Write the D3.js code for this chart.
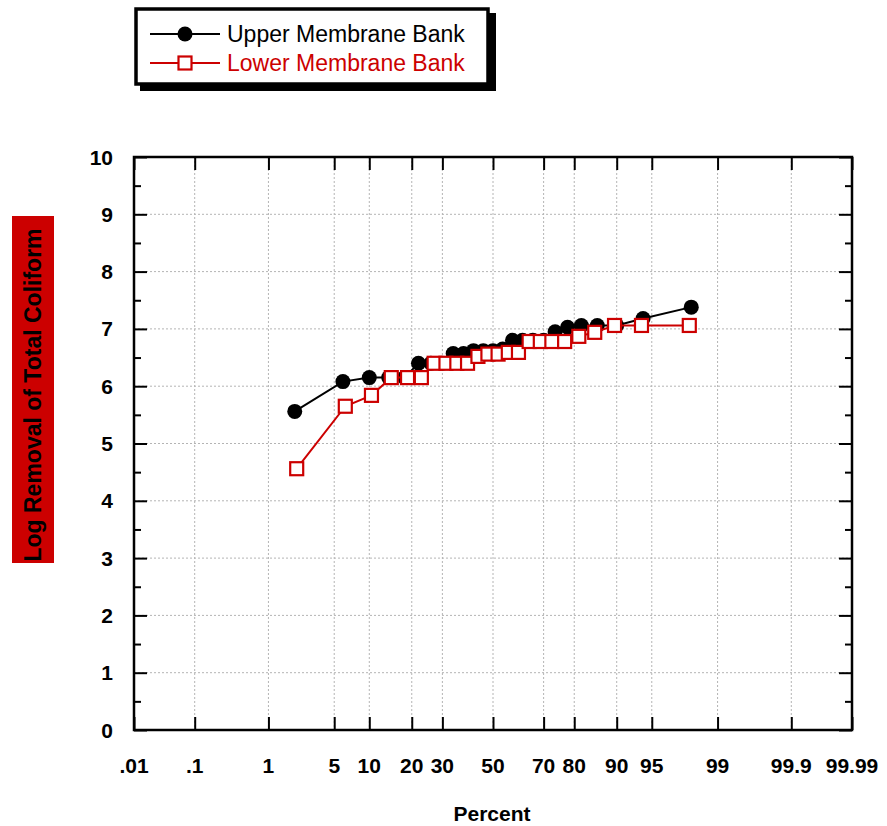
<title>Log Removal of Total Coliform</title>
<script src="https://d3js.org/d3.v7.min.js"></script>
<style>
    body { margin: 0; background: #fff; }
    text { font-family: "Liberation Sans", Arial, sans-serif; }
</style>
<svg id="chart" width="887" height="826"></svg>
<script>
    // percent (probability plotting position) and log removal
    var upperPct = [2, 6, 10, 14, 18, 22, 26, 30, 34, 38, 42, 46, 50, 54, 58, 62, 66, 70, 74, 78, 82, 86, 90, 94, 98];
    var upperLog = [5.56, 6.08, 6.15, 6.15, 6.15, 6.40, 6.40, 6.40, 6.57, 6.57, 6.62, 6.62, 6.62, 6.65, 6.80, 6.80, 6.80, 6.80, 6.95, 7.03, 7.06, 7.06, 7.06, 7.18, 7.38];

    var lowerPct = [2.1, 6.3, 10.4, 14.6, 18.8, 22.9, 27.1, 31.3, 35.4, 39.6, 43.8, 47.9, 52.1, 56.3, 60.4, 64.6, 68.8, 72.9, 77.1, 81.3, 85.4, 89.6, 93.8, 97.9];
    var lowerLog = [4.56, 5.65, 5.84, 6.15, 6.15, 6.15, 6.40, 6.40, 6.40, 6.40, 6.52, 6.56, 6.56, 6.59, 6.59, 6.78, 6.78, 6.78, 6.78, 6.87, 6.94, 7.06, 7.06, 7.06];

    var xTicks = [0.01, 0.1, 1, 5, 10, 20, 30, 50, 70, 80, 90, 95, 99, 99.9, 99.99];
    var xTickLabels = [".01", ".1", "1", "5", "10", "20", "30", "50", "70", "80", "90", "95", "99", "99.9", "99.99"];
    var yTicks = [0, 1, 2, 3, 4, 5, 6, 7, 8, 9, 10];
    var seriesNames = ["Upper Membrane Bank", "Lower Membrane Bank"];

    var red = "#cc0000";

    // inverse normal cdf (Acklam)
    function probit(p) {
        var a = [-3.969683028665376e+01, 2.209460984245205e+02, -2.759285104469687e+02, 1.383577518672690e+02, -3.066479806614716e+01, 2.506628277459239e+00];
        var b = [-5.447609879822406e+01, 1.615858368580409e+02, -1.556989798598866e+02, 6.680131188771972e+01, -1.328068155288572e+01];
        var c = [-7.784894002430293e-03, -3.223964580411365e-01, -2.400758277161838e+00, -2.549732539343734e+00, 4.374664141464968e+00, 2.938163982698783e+00];
        var d = [7.784695709041462e-03, 3.224671290700398e-01, 2.445134137142996e+00, 3.754408661907416e+00];
        var pl = 0.02425, q, r;
        if (p < pl) {
            q = Math.sqrt(-2 * Math.log(p));
            return (((((c[0]*q+c[1])*q+c[2])*q+c[3])*q+c[4])*q+c[5]) / ((((d[0]*q+d[1])*q+d[2])*q+d[3])*q+1);
        }
        if (p > 1 - pl) {
            q = Math.sqrt(-2 * Math.log(1 - p));
            return -(((((c[0]*q+c[1])*q+c[2])*q+c[3])*q+c[4])*q+c[5]) / ((((d[0]*q+d[1])*q+d[2])*q+d[3])*q+1);
        }
        q = p - 0.5; r = q * q;
        return (((((a[0]*r+a[1])*r+a[2])*r+a[3])*r+a[4])*r+a[5])*q / (((((b[0]*r+b[1])*r+b[2])*r+b[3])*r+b[4])*r+1);
    }

    var pL = 134, pR = 852, pT = 157, pB = 730;

    var zScale = d3.scaleLinear().domain([probit(0.0001), probit(0.9999)]).range([pL, pR]);
    var x = function (pct) { return zScale(probit(pct / 100)); };
    var y = d3.scaleLinear().domain([0, 10]).range([pB, pT]);

    var svg = d3.select("#chart");

    // grid
    var grid = svg.append("g").attr("stroke", "#b4b4b4").attr("stroke-width", 1).attr("stroke-dasharray", "2,2");
    grid.selectAll("line.gx")
        .data(xTicks.slice(1, -1))
        .enter().append("line")
        .attr("x1", d => x(d)).attr("x2", d => x(d))
        .attr("y1", pT).attr("y2", pB);
    grid.selectAll("line.gy")
        .data(yTicks.slice(1, -1))
        .enter().append("line")
        .attr("x1", pL).attr("x2", pR)
        .attr("y1", d => y(d)).attr("y2", d => y(d));

    // axes: ticks inward on all four sides
    var zTicks = xTicks.map(d => probit(d / 100));
    var bottomAxis = d3.axisTop(zScale).tickValues(zTicks).tickSize(13).tickFormat("");
    var topAxis = d3.axisBottom(zScale).tickValues(zTicks).tickSize(13).tickFormat("");
    var minorY = d3.range(0.5, 10, 1);
    var leftAxis = d3.axisRight(y).tickValues(yTicks).tickSize(13).tickFormat("");
    var leftMinor = d3.axisRight(y).tickValues(minorY).tickSize(7).tickFormat("");
    var rightAxis = d3.axisLeft(y).tickValues(yTicks).tickSize(13).tickFormat("");
    var rightMinor = d3.axisLeft(y).tickValues(minorY).tickSize(7).tickFormat("");

    function styleAxis(g) {
        g.selectAll("path").remove();
        g.selectAll("line").attr("stroke", "#000").attr("stroke-width", 2);
    }
    svg.append("g").attr("transform", "translate(0," + pB + ")").call(bottomAxis).call(styleAxis);
    svg.append("g").attr("transform", "translate(0," + pT + ")").call(topAxis).call(styleAxis);
    svg.append("g").attr("transform", "translate(" + pL + ",0)").call(leftAxis).call(styleAxis);
    svg.append("g").attr("transform", "translate(" + pL + ",0)").call(leftMinor).call(styleAxis);
    svg.append("g").attr("transform", "translate(" + pR + ",0)").call(rightAxis).call(styleAxis);
    svg.append("g").attr("transform", "translate(" + pR + ",0)").call(rightMinor).call(styleAxis);

    svg.append("rect")
        .attr("x", pL).attr("y", pT)
        .attr("width", pR - pL).attr("height", pB - pT)
        .attr("fill", "none").attr("stroke", "#000").attr("stroke-width", 2.5);

    // tick labels
    svg.selectAll("text.xl")
        .data(xTicks)
        .enter().append("text")
        .attr("x", d => x(d)).attr("y", 773)
        .attr("text-anchor", "middle")
        .attr("font-size", 21).attr("font-weight", "bold")
        .text((d, i) => xTickLabels[i]);

    svg.selectAll("text.yl")
        .data(yTicks)
        .enter().append("text")
        .attr("x", 113).attr("y", d => y(d) + 7.5)
        .attr("text-anchor", "end")
        .attr("font-size", 21).attr("font-weight", "bold")
        .text(d => d);

    svg.append("text")
        .attr("x", 492).attr("y", 821)
        .attr("text-anchor", "middle")
        .attr("font-size", 21).attr("font-weight", "bold")
        .text("Percent");

    // y title on red block
    svg.append("rect")
        .attr("x", 12).attr("y", 216).attr("width", 42).attr("height", 347)
        .attr("fill", red);
    svg.append("text")
        .attr("transform", "translate(41,395) rotate(-90)")
        .attr("text-anchor", "middle")
        .attr("font-size", 23).attr("font-weight", "bold")
        .attr("fill", "#000")
        .text("Log Removal of Total Coliform");

    // series
    var upper = upperPct.map((p, i) => [p, upperLog[i]]);
    var lower = lowerPct.map((p, i) => [p, lowerLog[i]]);
    var line = d3.line().x(d => x(d[0])).y(d => y(d[1]));

    svg.append("path").datum(upper)
        .attr("d", line).attr("fill", "none")
        .attr("stroke", "#000").attr("stroke-width", 2);
    svg.selectAll("circle.up")
        .data(upper)
        .enter().append("circle")
        .attr("cx", d => x(d[0])).attr("cy", d => y(d[1]))
        .attr("r", 7.5).attr("fill", "#000");

    svg.append("path").datum(lower)
        .attr("d", line).attr("fill", "none")
        .attr("stroke", red).attr("stroke-width", 2);
    svg.selectAll("rect.lo")
        .data(lower)
        .enter().append("rect")
        .attr("x", d => x(d[0]) - 6.5).attr("y", d => y(d[1]) - 6.5)
        .attr("width", 13).attr("height", 13)
        .attr("fill", "#fff").attr("stroke", red).attr("stroke-width", 2.2);

    // legend
    var lg = svg.append("g");
    lg.append("rect").attr("x", 140).attr("y", 13).attr("width", 356).attr("height", 78).attr("fill", "#000");
    lg.append("rect").attr("x", 136).attr("y", 9).attr("width", 352).attr("height", 75)
        .attr("fill", "#fff").attr("stroke", "#000").attr("stroke-width", 3.5);

    var rows = [{ name: seriesNames[0], color: "#000", y: 34 }, { name: seriesNames[1], color: red, y: 63 }];
    rows.forEach(function (r, i) {
        lg.append("line").attr("x1", 150).attr("x2", 220).attr("y1", r.y).attr("y2", r.y)
            .attr("stroke", r.color).attr("stroke-width", 2);
        if (i == 0) {
            lg.append("circle").attr("cx", 185).attr("cy", r.y).attr("r", 7.5).attr("fill", "#000");
        } else {
            lg.append("rect").attr("x", 178.5).attr("y", r.y - 6.5).attr("width", 13).attr("height", 13)
                .attr("fill", "#fff").attr("stroke", red).attr("stroke-width", 2.2);
        }
        lg.append("text").attr("x", 227).attr("y", r.y + 8)
            .attr("font-size", 23).attr("fill", r.color)
            .text(r.name);
    });
</script>
